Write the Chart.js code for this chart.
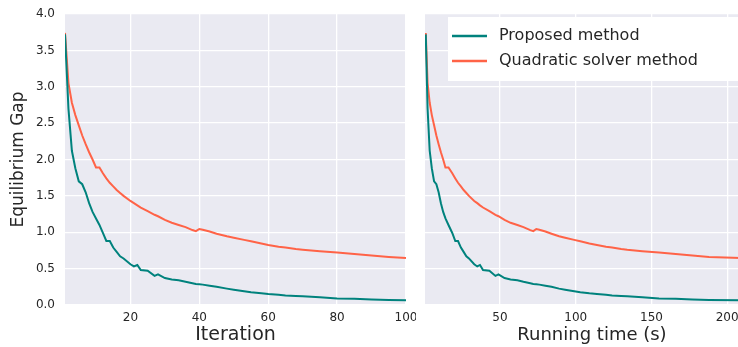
<!DOCTYPE html>
<html>
<head>
<meta charset="utf-8">
<script src="https://cdn.jsdelivr.net/npm/chart.js@4/dist/chart.umd.min.js"></script>
<style>
    html, body { margin: 0; padding: 0; background: #fff; overflow: hidden; }
    #wrap { position: relative; width: 738px; height: 347px; overflow: hidden; }
    #leftBox { position: absolute; left: 0; top: 0; width: 416px; height: 347px; }
    #rightBox { position: absolute; left: 415px; top: 0; width: 360px; height: 347px; }
</style>
</head>
<body>
<div id="wrap">
    <div id="leftBox"><canvas id="iterChart"></canvas></div>
    <div id="rightBox"><canvas id="timeChart"></canvas></div>
</div>
<script>
    // values
    const iterations = [1, 2, 3, 4, 5, 6, 7, 8, 9, 10, 11, 12, 13, 14, 15, 16, 17, 18, 20, 21, 22, 23, 25, 27, 28, 30,
        32, 34, 36, 38, 39, 40, 41, 43, 45, 48, 50, 53, 55, 58, 60, 63, 65, 68, 70, 75, 80, 85, 90, 95, 100];
    const runningTime = [1.0, 2.2, 3.6, 5.0, 6.5, 8.0, 9.5, 11.0, 12.5, 14.0, 16.0, 18.5, 20.5, 22.3, 24.2, 26.0, 27.8, 29.5,
        33.0, 35.0, 36.8, 38.8, 43, 47, 49, 53, 57, 61.5, 65.5, 70, 72, 74, 76, 80, 84, 89, 93, 99, 103, 109, 114, 120, 124,
        130, 134, 144, 155, 166, 177, 188, 209];
    const proposedGap = [3.72, 2.70, 2.12, 1.88, 1.70, 1.66, 1.55, 1.40, 1.28, 1.19, 1.10, 0.99, 0.88, 0.88, 0.79, 0.73,
        0.67, 0.64, 0.56, 0.53, 0.55, 0.48, 0.47, 0.40, 0.42, 0.37, 0.35, 0.34, 0.32, 0.30, 0.29, 0.285, 0.28, 0.265, 0.25,
        0.225, 0.21, 0.19, 0.175, 0.16, 0.15, 0.14, 0.13, 0.125, 0.12, 0.105, 0.09, 0.085, 0.075, 0.07, 0.065];
    const quadraticGap = [3.74, 3.05, 2.78, 2.61, 2.47, 2.33, 2.21, 2.10, 2.00, 1.89, 1.89, 1.81, 1.74, 1.68, 1.63, 1.58,
        1.54, 1.50, 1.43, 1.40, 1.37, 1.34, 1.29, 1.24, 1.22, 1.17, 1.13, 1.10, 1.07, 1.03, 1.015, 1.045, 1.035, 1.01, 0.98,
        0.945, 0.925, 0.895, 0.875, 0.845, 0.825, 0.80, 0.79, 0.77, 0.76, 0.74, 0.72, 0.70, 0.68, 0.66, 0.645];

    const seriesNames = ['Proposed method', 'Quadratic solver method'];
    const seriesColors = ['#00827d', '#ff6347'];

    const gapTicks = [0, 0.5, 1.0, 1.5, 2.0, 2.5, 3.0, 3.5, 4.0];
    const iterTicks = [20, 40, 60, 80, 100];
    const timeTicks = [50, 100, 150, 200];

    const FONT = 'DejaVu Sans';
    const INK = '#262626';

    // seaborn darkgrid panel
    const panelBackground = {
        id: 'panelBackground',
        beforeDraw(chart) {
            const { ctx, chartArea: a } = chart;
            ctx.save();
            ctx.fillStyle = '#eaeaf2';
            ctx.fillRect(a.left, a.top, a.right - a.left, a.bottom - a.top);
            ctx.restore();
        }
    };

    // legend drawn inside the panel, white box like matplotlib
    const panelLegend = {
        id: 'panelLegend',
        afterDatasetsDraw(chart) {
            const { ctx, chartArea: a } = chart;
            const left = a.left + 23;
            const top = a.top + 3;
            ctx.save();
            ctx.fillStyle = '#ffffff';
            ctx.fillRect(left, top, chart.width - left, 64);
            ctx.font = '16px "' + FONT + '"';
            ctx.textBaseline = 'middle';
            chart.data.datasets.forEach((ds, i) => {
                const y = top + 19 + i * 25;
                ctx.strokeStyle = ds.borderColor;
                ctx.lineWidth = 2.5;
                ctx.beginPath();
                ctx.moveTo(left + 4, y);
                ctx.lineTo(left + 39, y);
                ctx.stroke();
                ctx.fillStyle = INK;
                ctx.fillText(ds.label, left + 51, y);
            });
            ctx.restore();
        }
    };

    function makeDatasets(xs) {
        return [proposedGap, quadraticGap].map((vals, i) => ({
            label: seriesNames[i],
            data: vals.map((v, k) => ({ x: xs[k], y: v })),
            borderColor: seriesColors[i],
            backgroundColor: seriesColors[i],
            borderWidth: 2,
            pointRadius: 0,
            tension: 0,
            order: i === 0 ? 0 : 1
        }));
    }

    function xScale(min, max, ticks, title, titleSize) {
        return {
            type: 'linear',
            min: min,
            max: max,
            afterBuildTicks: s => { s.ticks = ticks.map(v => ({ value: v })); },
            afterFit: s => { s.height = 42; s.paddingLeft = 0; s.paddingRight = 0; },
            grid: { color: '#ffffff', lineWidth: 1.3, drawTicks: false },
            border: { display: false },
            ticks: { color: INK, font: { family: FONT, size: 12 }, padding: 6, maxRotation: 0,
                callback: v => String(v) },
            title: { display: true, text: title, color: INK, font: { family: FONT, size: titleSize },
                padding: { top: 0, bottom: 1 } }
        };
    }

    function yScale(showLabels) {
        return {
            type: 'linear',
            min: 0,
            max: 4.0,
            afterBuildTicks: s => { s.ticks = gapTicks.map(v => ({ value: v })); },
            afterFit: s => { s.width = showLabels ? 65 : 0; s.paddingTop = 0; s.paddingBottom = 0; },
            grid: { color: '#ffffff', lineWidth: 1.3, drawTicks: false },
            border: { display: false },
            ticks: { display: showLabels, color: INK, font: { family: FONT, size: 12 }, padding: 10,
                callback: v => v.toFixed(1) },
            title: { display: showLabels, text: 'Equilibrium Gap', color: INK, font: { family: FONT, size: 17 },
                padding: { top: 8, bottom: 0 } }
        };
    }

    function baseOptions(xs, ys, pad) {
        return {
            responsive: true,
            maintainAspectRatio: false,
            animation: false,
            layout: { padding: pad },
            plugins: { legend: { display: false }, tooltip: { enabled: false } },
            scales: { x: xs, y: ys }
        };
    }

    new Chart(document.getElementById('iterChart'), {
        type: 'line',
        data: { datasets: makeDatasets(iterations) },
        options: baseOptions(xScale(1, 100, iterTicks, 'Iteration', 19), yScale(true),
            { top: 14, right: 10, left: 0, bottom: 0 }),
        plugins: [panelBackground]
    });

    new Chart(document.getElementById('timeChart'), {
        type: 'line',
        data: { datasets: makeDatasets(runningTime) },
        options: baseOptions(xScale(0.5, 221, timeTicks, 'Running time (s)', 18), yScale(false),
            { top: 14, right: 16, left: 10, bottom: 0 }),
        plugins: [panelBackground, panelLegend]
    });
</script>
</body>
</html>
